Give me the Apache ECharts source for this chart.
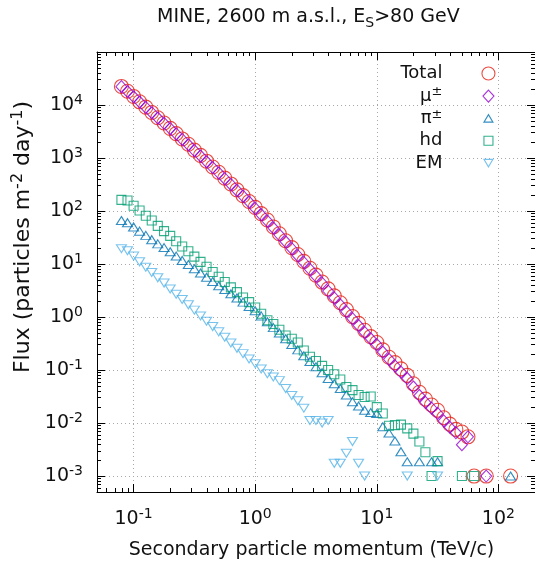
<!DOCTYPE html>
<html>
<head>
<meta charset="utf-8">
<script src="https://cdn.jsdelivr.net/npm/echarts@6/dist/echarts.min.js"></script>
<style>html,body{margin:0;padding:0;background:#fff}#c{width:535px;height:565px}</style>
</head>
<body>
<div id="c"></div>
<script>
// Secondary particle momentum (TeV/c), bin centres (20 bins per decade)
const momentum = [0.0794, 0.0891, 0.100, 0.112, 0.126, 0.141, 0.158, 0.178, 0.200, 0.224,
  0.251, 0.282, 0.316, 0.355, 0.398, 0.447, 0.501, 0.562, 0.631, 0.708,
  0.794, 0.891, 1.00, 1.12, 1.26, 1.41, 1.58, 1.78, 2.00, 2.24,
  2.51, 2.82, 3.16, 3.55, 3.98, 4.47, 5.01, 5.62, 6.31, 7.08,
  7.94, 8.91, 10.0, 11.2, 12.6, 14.1, 15.8, 17.8, 20.0, 22.4,
  25.1, 28.2, 31.6, 35.5, 39.8, 44.7, 50.1, 56.2, 63.1, 70.8,
  79.4, 89.1, 100, 112, 126];

// Flux (particles m^-2 day^-1)
const total = [22400, 18200, 14500, 11500, 9120, 7240, 5750, 4570, 3630, 2880,
  2290, 1820, 1410, 1120, 871, 676, 537, 417, 324, 251,
  195, 151, 117, 89.1, 67.6, 50.1, 37.2, 27.5, 20.4, 15.1,
  11.2, 8.32, 6.17, 4.57, 3.39, 2.51, 1.86, 1.38, 1.02, 0.759,
  0.562, 0.427, 0.331, 0.240, 0.174, 0.138, 0.105, 0.0794, 0.0550, 0.0380,
  0.0282, 0.0219, 0.0174, 0.0126, 0.00955, 0.00759, 0.00676, 0.00550, 0.001, null,
  0.001, null, null, null, 0.001];
const muon = [22200, 18000, 14300, 11400, 9020, 7160, 5690, 4520, 3590, 2850,
  2240, 1780, 1380, 1090, 851, 661, 525, 407, 317, 245,
  191, 148, 112, 85.1, 64.6, 47.8, 35.5, 26.3, 19.5, 14.4,
  10.7, 7.94, 5.89, 4.36, 3.09, 2.29, 1.70, 1.26, 0.930, 0.692,
  0.513, 0.389, 0.302, 0.219, 0.159, 0.120, 0.0915, 0.0692, 0.0479, 0.0331,
  0.0246, 0.0191, 0.0152, 0.0110, 0.00832, 0.00661, 0.00389, 0.00550, null, null,
  0.001, null, null, null, null];
const pion = [66.1, 60.3, 50.1, 41.7, 34.7, 28.8, 24.0, 20.4, 17.0, 14.1,
  11.7, 9.77, 8.13, 6.76, 5.62, 4.68, 3.89, 3.31, 2.75, 2.29,
  1.91, 1.58, 1.32, 1.05, 0.813, 0.631, 0.501, 0.389, 0.302, 0.240,
  0.186, 0.145, 0.115, 0.0891, 0.0692, 0.0550, 0.0447, 0.0339, 0.0251, 0.0209,
  0.0174, 0.0158, 0.0151, 0.00851, 0.00646, 0.00457, 0.00288, 0.00186, null, 0.00186,
  null, 0.00186, 0.00186, null, null, null, null, null, null, null,
  null, null, null, null, 0.001];
const hadron = [162, 158, 126, 102, 81.3, 66.1, 52.5, 41.7, 33.9, 26.9,
  21.4, 17.4, 13.8, 11.0, 8.91, 7.08, 5.75, 4.57, 3.63, 2.95,
  2.34, 1.91, 1.51, 1.15, 0.871, 0.741, 0.575, 0.447, 0.389, 0.331,
  0.234, 0.178, 0.148, 0.120, 0.100, 0.0832, 0.0661, 0.0479, 0.0417, 0.0339,
  0.0309, 0.0316, 0.0200, 0.0151, 0.00891, 0.00912, 0.00933, 0.00794, 0.00631, 0.00447,
  0.00282, 0.001, 0.00191, null, null, null, 0.001, null, 0.001, null,
  null, null, null, null, null];
const electromagnetic = [19.5, 17.8, 14.1, 11.0, 8.71, 6.92, 5.50, 4.37, 3.39, 2.69,
  2.14, 1.70, 1.35, 1.05, 0.832, 0.661, 0.525, 0.417, 0.324, 0.257,
  0.204, 0.162, 0.132, 0.105, 0.0851, 0.0741, 0.0631, 0.0447, 0.0331, 0.0263,
  0.0191, 0.0112, 0.0112, 0.0100, 0.0112, 0.00174, 0.00174, 0.00269, 0.00447, 0.00174,
  0.001, null, null, null, null, null, null, 0.001, null, null,
  null, null, 0.001, null, null, null, null, null, null, null,
  null, null, null, null, null];

const seriesNames = ['Total', 'μ±', 'π±', 'hd', 'EM'];
const legendLabels = ['{b|Total}', '{b|μ}{s|±}', '{b|π}{s|±}', '{b|hd}', '{b|EM}'];

// tick labels
const xTickValues = [0.1, 1, 10, 100];
const xTickExponents = ['-1', '0', '1', '2'];
const yTickValues = [1e-3, 1e-2, 1e-1, 1, 10, 100, 1e3, 1e4, 1e5];
const yTickExponents = ['-3', '-2', '-1', '0', '1', '2', '3', '4', '5'];

const X_MIN = 0.05, X_MAX = 200, Y_MIN = 5e-4, Y_MAX = 1e5;
const FONT = 'DejaVu Sans';
const INK = '#111';
const COLORS = ['#e51e10', '#9400d3', '#0072b2', '#009e73', '#56b4e9'];

function pairs(ys) {
  const out = [];
  for (let i = 0; i < momentum.length; i++) if (ys[i] != null) out.push([momentum[i], ys[i]]);
  return out;
}
function powLabel(values, exps) {
  return function (v) {
    for (let i = 0; i < values.length; i++) {
      if (Math.abs(v - values[i]) <= values[i] * 1e-6) return '{b|10}{s|' + exps[i] + '}';
    }
    return '';
  };
}
function minorValues(lo, hi) {
  const out = [];
  for (let e = -5; e <= 5; e++) for (let m = 2; m <= 9; m++) {
    const v = m * Math.pow(10, e);
    if (v >= lo * 0.999 && v <= hi * 1.001) out.push(Math.log10(v));
  }
  return out;
}
const tickRich = {
  b: { fontFamily: FONT, fontSize: 19, color: INK, lineHeight: 24 },
  s: { fontFamily: FONT, fontSize: 14, color: INK, lineHeight: 14, verticalAlign: 'top' }
};

const chart = echarts.init(document.getElementById('c'));

const blackLine = { color: '#000', width: 1 };
function majorAxis(dim, pos, withLabels, vals, exps, min, max) {
  return {
    type: 'log', logBase: 10, min: min, max: max, position: pos,
    axisLine: { show: true, onZero: false, lineStyle: blackLine },
    axisTick: { show: true, inside: true, length: 8, lineStyle: blackLine },
    minorTick: { show: false },
    axisLabel: withLabels ? {
      show: true, formatter: powLabel(vals, exps), rich: tickRich,
      margin: dim === 'x' ? 15 : 14, showMinLabel: false, showMaxLabel: false
    } : { show: false },
    splitLine: withLabels ? {
      show: true, showMinLine: false, showMaxLine: false,
      lineStyle: { color: '#a8a8a8', width: 1, type: [1, 3] }
    } : { show: false }
  };
}
function minorAxis(pos, min, max) {
  return {
    type: 'value', min: Math.log10(min), max: Math.log10(max), position: pos,
    axisLine: { show: false, onZero: false },
    axisTick: { show: true, inside: true, length: 4, lineStyle: blackLine, customValues: minorValues(min, max) },
    axisLabel: { show: false },
    splitLine: { show: false }
  };
}

const symbols = ['circle', 'diamond', 'triangle', 'rect', 'triangle'];
const symbolSizes = [14, [11, 12], [10, 8], [9, 9], [10, 8]];
const symbolRotates = [0, 0, 0, 0, 180];
const legendIcons = [
  'path://M0 0M20 20M16.5 10A6.5 6.5 0 1 1 3.5 10A6.5 6.5 0 1 1 16.5 10Z',
  'path://M0 0M20 20M10 4L15.5 10L10 16L4.5 10Z',
  'path://M0 0M20 20M10 6L14.5 13.5L5.5 13.5Z',
  'path://M0 0M20 20M5.5 5.5L14.5 5.5L14.5 14.5L5.5 14.5Z',
  'path://M0 0M20 20M5.5 6.5L14.5 6.5L10 14Z'
];
const dataSets = [total, muon, pion, hadron, electromagnetic];

const series = seriesNames.map((name, i) => ({
  name: name, type: 'scatter', xAxisIndex: 0, yAxisIndex: 0,
  symbol: symbols[i], symbolSize: symbolSizes[i], symbolRotate: symbolRotates[i],
  itemStyle: { color: 'transparent', borderColor: COLORS[i], borderWidth: 1.1 },
  emphasis: { disabled: true },
  data: pairs(dataSets[i]), z: 2 + i
}));

chart.setOption({
  animation: false,
  backgroundColor: '#fff',
  title: {
    text: '{b|MINE, 2600 m a.s.l., E}{sub|S}{b|>80 GeV}',
    left: 157, top: 4, padding: 0,
    textStyle: {
      fontWeight: 'normal',
      rich: {
        b: { fontFamily: FONT, fontSize: 19, fontWeight: 'normal', color: INK, lineHeight: 26 },
        sub: { fontFamily: FONT, fontSize: 14, fontWeight: 'normal', color: INK, lineHeight: 14, verticalAlign: 'bottom' }
      }
    }
  },
  legend: {
    orient: 'vertical', right: 31, top: 58, align: 'right',
    itemWidth: 82, itemHeight: 20, itemGap: 1,
    selectedMode: false,
    data: seriesNames.map((n, i) => ({
      name: n, icon: legendIcons[i],
      itemStyle: { color: 'transparent', borderColor: COLORS[i], borderWidth: 1.1 }
    })),
    formatter: function (name) { return legendLabels[seriesNames.indexOf(name)]; },
    textStyle: {
      rich: {
        b: { fontFamily: FONT, fontSize: 18, color: INK, lineHeight: 22 },
        s: { fontFamily: FONT, fontSize: 13, color: INK, lineHeight: 13, verticalAlign: 'top' }
      }
    }
  },
  grid: { left: 97, right: -1, top: 52, bottom: 71, containLabel: false },
  xAxis: [
    Object.assign(majorAxis('x', 'bottom', true, xTickValues, xTickExponents, X_MIN, X_MAX), {
      name: 'Secondary particle momentum (TeV/c)', nameLocation: 'middle', nameGap: 49,
      nameTextStyle: { fontFamily: FONT, fontSize: 19, color: INK, padding: [0, 9, 0, 0] }
    }),
    majorAxis('x', 'top', false, null, null, X_MIN, X_MAX),
    minorAxis('bottom', X_MIN, X_MAX),
    minorAxis('top', X_MIN, X_MAX)
  ],
  yAxis: [
    Object.assign(majorAxis('y', 'left', true, yTickValues, yTickExponents, Y_MIN, Y_MAX), {
      name: '{b|Flux (particles m}{s|-2}{b| day}{s|-1}{b|)}', nameLocation: 'middle', nameGap: 55,
      nameTextStyle: {
        padding: [0, 0, 0, 70],
        rich: {
          b: { fontFamily: FONT, fontSize: 22, color: INK, lineHeight: 26 },
          s: { fontFamily: FONT, fontSize: 16, color: INK, lineHeight: 16, verticalAlign: 'top' }
        }
      }
    }),
    majorAxis('y', 'right', false, null, null, Y_MIN, Y_MAX),
    minorAxis('left', Y_MIN, Y_MAX),
    minorAxis('right', Y_MIN, Y_MAX)
  ],
  series: series
});
</script>
</body>
</html>
